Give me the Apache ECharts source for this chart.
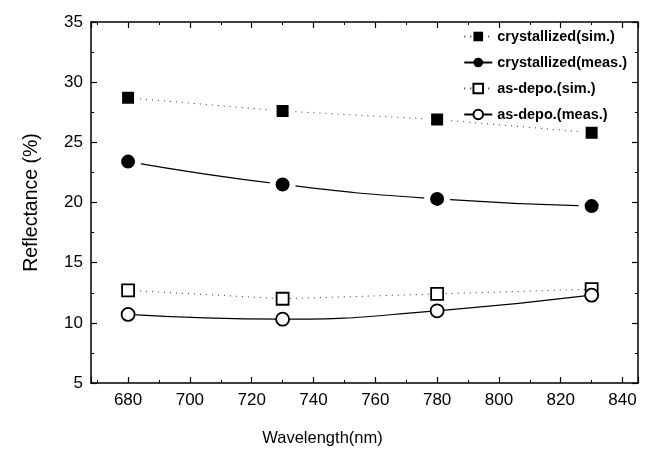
<!DOCTYPE html>
<html>
<head>
<meta charset="utf-8">
<script src="https://cdn.jsdelivr.net/npm/echarts@6/dist/echarts.min.js"></script>
<style>html,body{margin:0;padding:0;background:#fff}#c{width:650px;height:452px}</style>
</head>
<body>
<div id="c"></div>
<script>
const wavelengths = [680, 730, 780, 830];
const crystSim = [28.7, 27.6, 26.9, 25.8];
const crystMeas = [23.4, 21.5, 20.3, 19.7];
const asdepoSim = [12.7, 12.0, 12.4, 12.8];
const asdepoMeas = [10.7, 10.3, 11.0, 12.3];
const seriesNames = ['crystallized(sim.)', 'crystallized(meas.)', 'as-depo.(sim.)', 'as-depo.(meas.)'];

const pair = (arr) => wavelengths.map((w, i) => [w, arr[i]]);
const FONT = 'Liberation Sans, Arial, sans-serif';
const axisCommon = {
  axisLine: {show: true, lineStyle: {color: '#000', width: 1.5}},
  axisTick: {show: true, inside: true, length: 6, lineStyle: {color: '#000', width: 1.2}},
  minorTick: {show: true, splitNumber: 2, length: 3, lineStyle: {color: '#000', width: 1}},
  splitLine: {show: false}
};

const chart = echarts.init(document.getElementById('c'), null, {renderer: 'canvas'});
chart.setOption({
  animation: false,
  backgroundColor: '#fff',
  grid: {left: 91, right: 12, top: 22, bottom: 69},
  legend: {
    orient: 'vertical', right: 18, top: 24, itemGap: 11,
    itemWidth: 28, itemHeight: 12,
    textStyle: {fontFamily: FONT, fontSize: 14.5, fontWeight: 'bold', color: '#000'},
    data: [
      {name: seriesNames[0], itemStyle: {borderWidth: 0}},
      {name: seriesNames[1], itemStyle: {borderWidth: 0}},
      {name: seriesNames[2]},
      {name: seriesNames[3]}
    ]
  },
  xAxis: [
    Object.assign({
      type: 'value', min: 668, max: 845, splitNumber: 9,
      name: 'Wavelength(nm)', nameLocation: 'middle', nameGap: 47,
      nameTextStyle: {fontFamily: FONT, fontSize: 16.5, color: '#000', padding: [0, 84, 0, 0]},
      axisLabel: {fontFamily: FONT, fontSize: 17, color: '#000', margin: 9,
        formatter: v => (v % 20 === 0 ? String(v) : '')}
    }, axisCommon),
    Object.assign({
      type: 'value', min: 668, max: 845, splitNumber: 9, position: 'top',
      axisLabel: {show: false}
    }, axisCommon)
  ],
  yAxis: [
    Object.assign({
      type: 'value', min: 5, max: 35, interval: 5,
      name: 'Reflectance (%)', nameLocation: 'middle', nameGap: 49,
      nameTextStyle: {fontFamily: FONT, fontSize: 19.5, color: '#000'},
      axisLabel: {fontFamily: FONT, fontSize: 17, color: '#000', margin: 8}
    }, axisCommon),
    Object.assign({
      type: 'value', min: 5, max: 35, interval: 5, position: 'right',
      axisLabel: {show: false}
    }, axisCommon)
  ],
  series: [
    {
      name: seriesNames[0], type: 'line', data: pair(crystSim),
      symbol: 'rect', symbolSize: 18,
      itemStyle: {color: '#000', borderColor: '#fff', borderWidth: 6},
      lineStyle: {color: '#333', width: 1, type: [1, 5]}
    },
    {
      name: seriesNames[1], type: 'line', data: pair(crystMeas), smooth: true,
      symbol: 'circle', symbolSize: 20,
      itemStyle: {color: '#000', borderColor: '#fff', borderWidth: 6},
      lineStyle: {color: '#000', width: 1.2}
    },
    {
      name: seriesNames[2], type: 'line', data: pair(asdepoSim),
      symbol: 'rect', symbolSize: 12,
      itemStyle: {color: '#fff', borderColor: '#000', borderWidth: 1.8},
      lineStyle: {color: '#333', width: 1, type: [1, 5]}
    },
    {
      name: seriesNames[3], type: 'line', data: pair(asdepoMeas), smooth: true,
      symbol: 'circle', symbolSize: 13,
      itemStyle: {color: '#fff', borderColor: '#000', borderWidth: 1.8},
      lineStyle: {color: '#000', width: 1.2}
    }
  ]
});
</script>
</body>
</html>
